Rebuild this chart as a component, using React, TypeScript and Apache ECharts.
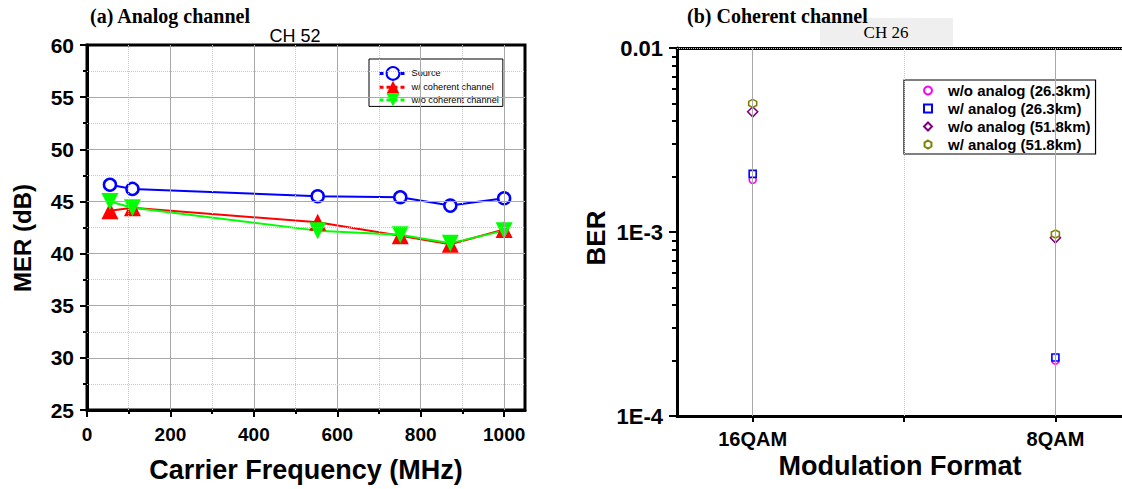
import React, { useEffect, useRef } from 'react';
import * as echarts from 'echarts';

// ---------- (a) Analog channel ----------
const carrierFreqMHz = [55, 109, 553, 751, 871, 1000];
const merSource = [46.6, 46.2, 45.5, 45.4, 44.6, 45.3];
const merWithCoherent = [44.1, 44.4, 43.0, 41.7, 40.9, 42.3];
const merWithoutCoherent = [45.0, 44.4, 42.2, 41.8, 41.0, 42.2];
const freqTicks = [0, 200, 400, 600, 800, 1000];
const freqMinorTicks = [100, 300, 500, 700, 900];
const merMajorGrid = [30, 35, 40, 45, 50, 55];
const merMinorGrid = [27.5, 32.5, 37.5, 42.5, 47.5, 52.5, 57.5];

// ---------- (b) Coherent channel ----------
const modFormats = ['16QAM', '8QAM'];
const modPositions = [1, 2];
const modTickPositions = [1, 1.5, 2];
const berWoAnalog26 = [1.92e-3, 2.0e-4];
const berWAnalog26 = [2.07e-3, 2.08e-4];
const berWoAnalog51 = [4.5e-3, 9.3e-4];
const berWAnalog51 = [5.0e-3, 9.75e-4];
const berMajorTicks = [1e-4, 1e-3, 1e-2];
const berTickLabels = ['1E-4', '1E-3', '0.01'];
const berMinorTicks = [2e-4, 3e-4, 4e-4, 5e-4, 6e-4, 7e-4, 8e-4, 9e-4, 2e-3, 3e-3, 4e-3, 5e-3, 6e-3, 7e-3, 8e-3, 9e-3];

const SANS = 'Liberation Sans, Arial, sans-serif';
const SERIF = 'Liberation Serif, Times New Roman, serif';
const HEX = 'path://M0,-1 L0.866,-0.5 L0.866,0.5 L0,1 L-0.866,0.5 L-0.866,-0.5 Z';

const zip = (xs: number[], ys: number[]) => xs.map((x, i) => [x, ys[i]]);

const solidGrid = { type: 'solid', color: '#a8a8a8', width: 1 };
const dotGrid = { type: 'dotted', color: '#c8c8c8', width: 1 };

export default function App() {
  const ref = useRef<HTMLDivElement>(null);
  useEffect(() => {
    if (!ref.current) return;
    const chart = echarts.init(ref.current, null, { renderer: 'svg' });
    const lbl = (size: number) => ({ fontFamily: SANS, fontWeight: 'bold', fontSize: size, color: '#000' });
    const option: any = {
      animation: false,
      backgroundColor: '#fff',
      grid: [
        { left: 87, top: 45, width: 438, height: 365, show: true, borderColor: '#000', borderWidth: 3, backgroundColor: 'transparent' },
        { left: 677, top: 48, width: 445, height: 368 },
      ],
      xAxis: [
        {
          gridIndex: 0, type: 'value', min: 0, max: 1050,
          axisLine: { lineStyle: { color: '#000', width: 3 } },
          axisTick: { customValues: freqTicks, length: 7, lineStyle: { color: '#000', width: 2 } },
          axisLabel: { ...lbl(19), customValues: freqTicks, margin: 15, formatter: (v: number) => String(v) },
          splitLine: { show: false },
        },
        {
          gridIndex: 0, type: 'value', min: 0, max: 1050, position: 'bottom',
          axisLine: { show: false },
          axisTick: { customValues: freqMinorTicks, length: 4, lineStyle: { color: '#000', width: 2 } },
          axisLabel: { show: false },
          splitLine: { show: false },
        },
        {
          gridIndex: 1, type: 'value', min: 0.75, max: 2.22,
          axisLine: { lineStyle: { color: '#000', width: 3 } },
          axisTick: { customValues: modTickPositions, length: 6, lineStyle: { color: '#000', width: 2 } },
          axisLabel: {
            ...lbl(20), customValues: modPositions, margin: 13,
            formatter: (v: number) => modFormats[modPositions.indexOf(Math.round(v))] ?? '',
          },
          splitLine: { show: false },
        },
        {
          gridIndex: 1, type: 'value', min: 0.75, max: 2.22, position: 'top',
          axisLine: { lineStyle: { color: '#000', width: 3 } },
          axisTick: { show: false }, axisLabel: { show: false }, splitLine: { show: false },
        },
      ],
      yAxis: [
        {
          gridIndex: 0, type: 'value', min: 25, max: 60, interval: 5,
          axisLine: { show: true, lineStyle: { color: '#000', width: 3 } },
          axisTick: { show: true, length: 7, lineStyle: { color: '#000', width: 2 } },
          minorTick: { show: true, splitNumber: 2, length: 4, lineStyle: { color: '#000', width: 2 } },
          axisLabel: { ...lbl(21), margin: 13 },
          splitLine: { show: false },
        },
        {
          gridIndex: 1, type: 'log', logBase: 10, min: 1e-4, max: 1e-2,
          axisLine: { show: true, lineStyle: { color: '#000', width: 3 } },
          axisTick: { show: true, length: 8, lineStyle: { color: '#000', width: 2 } },
          axisLabel: {
            ...lbl(22), margin: 14,
            formatter: (v: number) => {
              const i = berMajorTicks.findIndex((t) => Math.abs(Math.log10(t) - Math.log10(v)) < 0.01);
              return i >= 0 ? berTickLabels[i] : '';
            },
          },
          splitLine: { show: false },
        },
        {
          gridIndex: 1, type: 'value', min: -4, max: -2, position: 'left',
          axisLine: { show: false },
          axisTick: { show: true, customValues: berMinorTicks.map((v) => Math.log10(v)), length: 5, lineStyle: { color: '#000', width: 2 } },
          axisLabel: { show: false },
          splitLine: { show: false },
        },
      ],
      legend: [
        {
          data: ['Source', 'w/ coherent channel', 'w/o coherent channel'],
          orient: 'vertical', left: 369, top: 59,
          padding: [7, 4, 0, 9], itemGap: 0, itemWidth: 27, itemHeight: 16,
          backgroundColor: '#fff', borderColor: '#000', borderWidth: 1,
          textStyle: { fontFamily: SANS, fontSize: 9.2, color: '#000' },
          lineStyle: { type: [4, 3], width: 3 },
        },
        {
          data: ['w/o analog (26.3km)', 'w/ analog (26.3km)', 'w/o analog (51.8km)', 'w/ analog (51.8km)'],
          orient: 'vertical', left: 904, top: 80,
          padding: [3, 5, 2, 19], itemGap: 3, itemWidth: 8, itemHeight: 8,
          backgroundColor: '#fff', borderColor: '#000', borderWidth: 1.2,
          textStyle: { fontFamily: SANS, fontSize: 15, fontWeight: 'bold', color: '#000', padding: [0, 0, 0, 11] },
        },
      ],
      series: [
        {
          type: 'line', xAxisIndex: 0, yAxisIndex: 0, data: [], z: 1, silent: true,
          markLine: {
            silent: true, symbol: 'none', label: { show: false }, animation: false,
            data: [
              ...freqTicks.slice(1).map((v) => ({ xAxis: v, lineStyle: solidGrid })),
              ...freqMinorTicks.map((v) => ({ xAxis: v, lineStyle: dotGrid })),
              ...merMajorGrid.map((v) => ({ yAxis: v, lineStyle: solidGrid })),
              ...merMinorGrid.map((v) => ({ yAxis: v, lineStyle: dotGrid })),
            ],
          },
        },
        {
          type: 'line', xAxisIndex: 2, yAxisIndex: 1, data: [], z: 1, silent: true,
          markLine: {
            silent: true, symbol: 'none', label: { show: false }, animation: false,
            data: [
              { xAxis: 1, lineStyle: solidGrid },
              { xAxis: 2, lineStyle: solidGrid },
              { xAxis: 1.5, lineStyle: dotGrid },
              { yAxis: 1e-3, lineStyle: solidGrid },
              ...berMinorTicks.map((v) => ({ yAxis: v, lineStyle: dotGrid })),
            ],
          },
        },
        {
          name: 'Source', type: 'line', xAxisIndex: 0, yAxisIndex: 0,
          data: zip(carrierFreqMHz, merSource),
          symbol: 'circle', symbolSize: 12,
          itemStyle: { color: '#fff', borderColor: '#0000ff', borderWidth: 2.5 },
          lineStyle: { color: '#0000ff', width: 2 },
        },
        {
          name: 'w/ coherent channel', type: 'line', xAxisIndex: 0, yAxisIndex: 0,
          data: zip(carrierFreqMHz, merWithCoherent),
          symbol: 'triangle', symbolSize: 17,
          itemStyle: { color: '#ff0000' },
          lineStyle: { color: '#ff0000', width: 2 },
        },
        {
          name: 'w/o coherent channel', type: 'line', xAxisIndex: 0, yAxisIndex: 0,
          data: zip(carrierFreqMHz, merWithoutCoherent),
          symbol: 'triangle', symbolRotate: 180, symbolSize: 17,
          itemStyle: { color: '#00ff00' },
          lineStyle: { color: '#00ff00', width: 2 },
        },
        {
          name: 'w/o analog (26.3km)', type: 'scatter', xAxisIndex: 2, yAxisIndex: 1,
          data: zip(modPositions, berWoAnalog26), symbol: 'circle', symbolSize: 7,
          itemStyle: { color: '#fff', borderColor: '#ff00ff', borderWidth: 1.6, opacity: 1 },
        },
        {
          name: 'w/ analog (26.3km)', type: 'scatter', xAxisIndex: 2, yAxisIndex: 1,
          data: zip(modPositions, berWAnalog26), symbol: 'rect', symbolSize: 7,
          itemStyle: { color: '#fff', borderColor: '#0000ff', borderWidth: 1.6, opacity: 1 },
        },
        {
          name: 'w/o analog (51.8km)', type: 'scatter', xAxisIndex: 2, yAxisIndex: 1,
          data: zip(modPositions, berWoAnalog51), symbol: 'diamond', symbolSize: 10,
          itemStyle: { color: '#fff', borderColor: '#800080', borderWidth: 1.6, opacity: 1 },
        },
        {
          name: 'w/ analog (51.8km)', type: 'scatter', xAxisIndex: 2, yAxisIndex: 1,
          data: zip(modPositions, berWAnalog51), symbol: HEX, symbolSize: 8,
          itemStyle: { color: '#fff', borderColor: '#808000', borderWidth: 1.6, opacity: 1 },
        },
      ],
      graphic: [
        { type: 'text', x: 90, y: 16, style: { text: '(a) Analog channel', font: `bold 20px ${SERIF}`, fill: '#000', textAlign: 'left', textVerticalAlign: 'middle' } },
        { type: 'text', x: 295, y: 36, style: { text: 'CH 52', font: `18px ${SANS}`, fill: '#000', textAlign: 'center', textVerticalAlign: 'middle' } },
        { type: 'text', x: 22, y: 238, rotation: Math.PI / 2, style: { text: 'MER (dB)', font: `bold 24px ${SANS}`, fill: '#000', textAlign: 'center', textVerticalAlign: 'middle' } },
        { type: 'text', x: 306, y: 470, style: { text: 'Carrier Frequency (MHz)', font: `bold 27px ${SANS}`, fill: '#000', textAlign: 'center', textVerticalAlign: 'middle' } },
        { type: 'rect', shape: { x: 820, y: 18, width: 133, height: 28 }, style: { fill: '#efefef' } },
        { type: 'text', x: 886, y: 32, style: { text: 'CH 26', font: `17px ${SERIF}`, fill: '#000', textAlign: 'center', textVerticalAlign: 'middle' } },
        { type: 'text', x: 687, y: 16, style: { text: '(b) Coherent channel', font: `bold 20px ${SERIF}`, fill: '#000', textAlign: 'left', textVerticalAlign: 'middle' } },
        { type: 'text', x: 596, y: 238, rotation: Math.PI / 2, style: { text: 'BER', font: `bold 26px ${SANS}`, fill: '#000', textAlign: 'center', textVerticalAlign: 'middle' } },
        { type: 'text', x: 900, y: 466, style: { text: 'Modulation Format', font: `bold 27px ${SANS}`, fill: '#000', textAlign: 'center', textVerticalAlign: 'middle' } },
      ],
    };
    chart.setOption(option);
    return () => chart.dispose();
  }, []);
  return <div ref={ref} style={{ position: 'fixed', left: 0, top: 0, width: 1122, height: 489 }} />;
}
